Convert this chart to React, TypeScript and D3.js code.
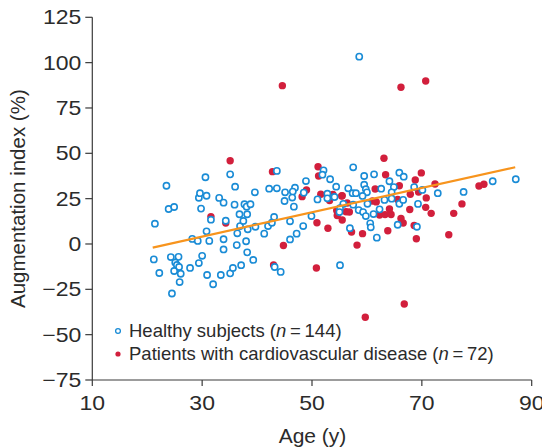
import React from "react";
import * as d3 from "d3";

// Healthy subjects: age (years) and augmentation index (%)
const healthyAge = [
  21.4, 23.5, 23.9, 24.9, 28.2, 29.2, 29.4, 29.6, 29.8, 30.6, 30.8, 30.8, 31.3, 31.6, 33.1, 33.9, 33.9, 33.9, 34.3, 35.1,
  35.9, 36.0, 36.3, 36.4, 36.8, 36.9, 37.5, 37.7, 38.1, 38.0, 38.2, 38.3, 38.8, 39.6, 39.7, 41.3, 42.0, 42.2, 39.3, 38.2,
  21.2, 22.2, 24.3, 25.7, 25.1, 25.4, 25.8, 24.9, 26.1, 25.9, 24.5, 27.8, 29.4, 30.0, 30.9, 32.0, 33.4, 35.1, 35.6, 37.1,
  43.2, 44.3, 43.6, 43.6, 45.1, 45.0, 46.9, 46.5, 46.4, 46.7, 48.5, 48.9, 52.1, 51.9, 53.3, 54.4, 56.6, 57.4, 58.0, 51.0,
  52.8, 52.8, 54.1, 55.7, 55.1, 55.0, 57.5, 58.5, 49.9, 43.1, 42.7, 46.0, 48.4, 47.2, 46.0, 56.9, 57.5, 58.6, 59.5, 61.3,
  65.9, 66.7, 59.5, 59.8, 60.0, 59.2, 62.6, 64.1, 64.9, 64.5, 63.2, 64.5, 65.9, 66.6, 68.6, 70.1, 69.3, 72.9, 60.1, 62.3,
  61.2, 59.3, 59.8, 60.6, 60.7, 61.8, 65.6, 69.1, 77.6, 82.9, 87.1, 55.1,
];
const healthyAix = [
  11.2, 32.1, 19.3, 20.4, 2.8, 1.7, 25.5, 28.0, 19.5, 36.8, 26.6, 7.0, 1.7, 13.4, 25.4, 22.8, 2.6, -3.0, 12.8, 38.4,
  21.7, 31.6, -0.6, 5.9, 16.4, 9.9, 12.7, 21.9, 20.6, 1.5, 16.4, 8.1, 21.9, 28.5, 9.5, 5.7, 9.9, 30.5, -8.8, -4.6,
  -8.5, -16.0, -7.2, -7.1, -10.2, -11.6, -12.7, -14.9, -16.4, -21.0, -27.3, -13.2, -10.5, -6.5, -17.1, -22.2, -17.1, -16.2, -13.2, -11.7,
  -12.7, -15.4, 40.3, 30.7, 28.5, 23.7, 31.0, 28.9, 25.6, 20.6, 28.3, 34.7, 40.6, 38.2, 35.7, 31.6, 30.7, 28.0, 28.0, 24.6,
  27.7, 25.2, 25.9, 22.1, 19.7, 17.6, 21.7, 18.7, 15.4, 14.9, 11.7, 12.5, 9.9, 5.7, 2.5, 8.7, 42.3, 103.3, 37.5, 38.4,
  39.3, 37.1, 32.7, 30.2, 28.5, 26.5, 30.5, 34.6, 31.4, 28.5, 24.3, 25.0, 22.2, 24.3, 31.4, 29.8, 22.1, 28.0, 22.2, 19.1,
  16.5, 17.6, 15.4, 11.4, 9.2, 3.5, 10.6, 9.5, 28.7, 34.6, 35.7, -11.7,
];

// Patients with cardiovascular disease
const patientAge = [
  44.6, 66.2, 70.7, 35.1, 42.8, 49.0, 51.1, 51.2, 48.2, 63.1, 63.4, 69.9, 68.8, 72.4, 80.4, 81.3, 65.9, 55.5, 61.5, 67.9,
  69.4, 70.8, 51.6, 31.6, 34.3, 43.0, 44.8, 50.9, 50.8, 53.2, 53.8, 55.4, 55.5, 54.5, 54.6, 56.2, 56.8, 56.4, 61.0, 61.7,
  62.3, 63.3, 64.4, 64.1, 65.6, 67.8, 70.7, 71.7, 75.8, 77.3, 66.2, 66.6, 68.6, 69.0, 52.9, 57.2, 59.2, 58.2, 63.8, 74.9,
  66.8, 59.7,
];
const patientAix = [
  87.3, 86.4, 89.9, 45.9, 39.9, 29.8, 42.6, 37.5, 26.1, 47.3, 38.2, 39.2, 35.3, 33.1, 32.0, 32.9, 32.1, 26.6, 30.3, 27.4,
  28.7, 25.4, 27.4, 15.1, 11.6, -11.6, -0.8, 11.7, -13.2, 24.0, 27.3, 26.5, 13.2, 18.5, 15.7, 17.8, 17.6, 22.6, 23.7, 23.2,
  16.0, 16.2, 16.3, 19.3, 24.5, 19.0, 20.2, 16.9, 16.9, 22.1, 14.1, 11.6, 10.2, 2.9, 8.7, 6.6, 5.7, -0.6, 7.3, 5.1,
  -33.1, -40.4,
];

// Fitted regression line (age, augmentation index) at its two ends
const fitAge = [21, 87];
const fitAix = [-2, 42.3];

const xTicks = [10, 30, 50, 70, 90];
const yTicks = [-75, -50, -25, 0, 25, 50, 75, 100, 125];

const BLUE = "#1a8cd6";
const RED = "#d21f3c";
const ORANGE = "#f7941d";
const AXIS = "#3a3a3a";
const TEXT = "#2b2b2b";
const FONT = "'Liberation Sans', Arial, Helvetica, sans-serif";

// Tick numerals are set a little wider than the regular face
const TICK_SIZE = 20;
const TICK_STRETCH = 1.15;

export default function App() {
  const width = 542;
  const height = 448;
  const x = d3.scaleLinear().domain([10, 90]).range([92.3, 531.7]);
  const y = d3.scaleLinear().domain([-75, 125]).range([380, 17.3]);

  const healthy = healthyAge.map((a, i) => ({ a, v: healthyAix[i] }));
  const patients = patientAge.map((a, i) => ({ a, v: patientAix[i] }));
  const fit = fitAge.map((a, i) => [a, fitAix[i]] as [number, number]);
  const line = d3
    .line<[number, number]>()
    .x((d) => x(d[0]))
    .y((d) => y(d[1]));

  const fmt = (t: number) => (t < 0 ? "\u2212" + Math.abs(t) : String(t));
  const x0 = x(10);
  const yBase = y(-75);

  return (
    <svg
      width={width}
      height={height}
      style={{ position: "absolute", left: 0, top: 0, background: "#fff" }}
      fontFamily={FONT}
    >
      {/* axes */}
      <line x1={x0} x2={x0} y1={y(125)} y2={yBase} stroke={AXIS} strokeWidth={1.2} />
      <line x1={x0} x2={x(90)} y1={yBase} y2={yBase} stroke={AXIS} strokeWidth={1.2} />
      {yTicks.map((t) => (
        <g key={"y" + t}>
          <line x1={x0 - 7} x2={x0} y1={y(t)} y2={y(t)} stroke={AXIS} strokeWidth={1.2} />
          <text
            transform={`translate(${x0 - 11}, ${y(t) + 7}) scale(${TICK_STRETCH}, 1)`}
            textAnchor="end"
            fontSize={TICK_SIZE}
            fill={TEXT}
          >
            {fmt(t)}
          </text>
        </g>
      ))}
      {xTicks.map((t) => (
        <g key={"x" + t}>
          <line x1={x(t)} x2={x(t)} y1={yBase} y2={yBase + 6} stroke={AXIS} strokeWidth={1.2} />
          <text
            transform={`translate(${x(t)}, 410) scale(${TICK_STRETCH}, 1)`}
            textAnchor="middle"
            fontSize={TICK_SIZE}
            fill={TEXT}
          >
            {fmt(t)}
          </text>
        </g>
      ))}

      {/* axis titles */}
      <text x={312.5} y={443} textAnchor="middle" fontSize={21} fill={TEXT}>
        Age (y)
      </text>
      <text
        transform={`translate(25, ${(y(125) + yBase) / 2}) rotate(-90)`}
        textAnchor="middle"
        fontSize={20.5}
        fill={TEXT}
      >
        Augmentation index (%)
      </text>

      {/* points: patients underneath, healthy subjects on top */}
      {patients.map((d, i) => (
        <circle key={"p" + i} cx={x(d.a)} cy={y(d.v)} r={3.7} fill={RED} />
      ))}
      {healthy.map((d, i) => (
        <circle
          key={"h" + i}
          cx={x(d.a)}
          cy={y(d.v)}
          r={3.1}
          fill="#fff"
          stroke={BLUE}
          strokeWidth={1.6}
        />
      ))}

      {/* regression line */}
      <path d={line(fit) || ""} fill="none" stroke={ORANGE} strokeWidth={2.2} />

      {/* legend */}
      <circle cx={118} cy={331} r={2.4} fill="#fff" stroke={BLUE} strokeWidth={1.3} />
      <text x={129} y={337} fontSize={18.5} fill={TEXT}>
        Healthy subjects (<tspan fontStyle="italic">n</tspan>
        {"\u2009=\u2009144)"}
      </text>
      <circle cx={118} cy={354} r={2.6} fill={RED} />
      <text x={129} y={360} fontSize={18.5} fill={TEXT}>
        Patients with cardiovascular disease (<tspan fontStyle="italic">n</tspan>
        {"\u2009=\u200972)"}
      </text>
    </svg>
  );
}
